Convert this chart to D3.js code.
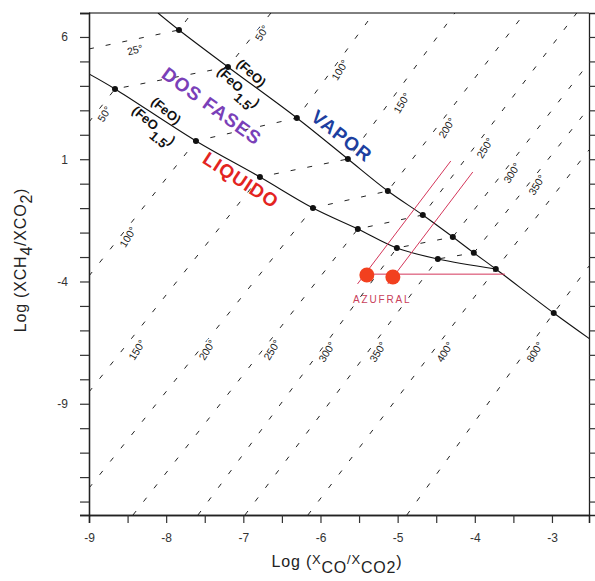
<!DOCTYPE html>
<meta charset="utf-8">
<html>
<head>
<script src="https://d3js.org/d3.v7.min.js"></script>
<style>
body { margin: 0; background: #fff; }
svg { display: block; font-family: Arial, "Liberation Sans", sans-serif; }
.tick text { font-size: 12px; fill: #333; }
.iso { fill: none; stroke: #222; stroke-width: 1; stroke-dasharray: 5,12; }
.curve { fill: none; stroke: #111; stroke-width: 1.1; }
.isolabel { font-size: 10.5px; fill: #222; stroke: #fff; stroke-width: 3; paint-order: stroke; }
</style>
</head>
<body>
<svg width="595" height="581"></svg>
<script>

// axis ticks
var xTicks = [-9, -8, -7, -6, -5, -4, -3];
var yTicks = [6, 1, -4, -9];

// phase boundaries, Log(XCO/XCO2) vs Log(XCH4/XCO2)
var vaporCurve = [[-8.106, 6.98], [-7.834, 6.286], [-7.199, 4.773], [-6.306, 2.687], [-5.645, 1.010],
  [-5.127, -0.299], [-4.674, -1.28], [-4.285, -2.18], [-4.013, -2.83], [-3.728, -3.49],
  [-2.977, -5.29], [-2.51, -6.35]];
var liquidCurve = [[-9, 4.487], [-8.663, 3.874], [-7.614, 1.747], [-6.785, 0.274], [-6.098, -0.994],
  [-5.516, -1.853], [-5.010, -2.63], [-4.479, -3.08], [-3.728, -3.49]];

// isotherms
var isoTemps = ["25°", "50°", "100°", "150°", "200°", "250°", "300°", "350°", "400°", "800°"];
var isoPaths = [
  [[-9, 5.51], [-7.834, 6.286], [-7.666, 6.98]],
  [[-9, 2.52], [-8.663, 3.874], [-7.199, 4.773], [-6.642, 6.98]],
  [[-9, -3.775], [-7.614, 1.747], [-6.306, 2.687], [-5.308, 6.98]],
  [[-9, -8.52], [-6.785, 0.274], [-5.645, 1.010], [-4.259, 6.98]],
  [[-9, -12.45], [-6.098, -0.994], [-5.127, -0.299], [-3.352, 6.98]],
  [[-8.43, -13.55], [-5.516, -1.853], [-4.674, -1.28], [-2.679, 6.98]],
  [[-7.588, -13.55], [-5.010, -2.63], [-4.285, -2.18], [-2.52, 4.94]],
  [[-6.979, -13.55], [-4.479, -3.08], [-4.013, -2.83], [-2.52, 3.10]],
  [[-6.163, -13.55], [-3.728, -3.49], [-2.52, 1.38]],
  [[-4.881, -13.55], [-2.977, -5.29], [-2.52, -3.37]]
];
var liquidLabels = [["50°", -8.80, 2.85], ["100°", -8.495, -2.18], ["150°", -8.378, -6.80],
  ["200°", -7.47, -6.80], ["250°", -6.63, -6.80], ["300°", -5.917, -6.88], ["350°", -5.256, -6.88],
  ["400°", -4.389, -6.88], ["800°", -3.223, -6.88]];
var vaporLabels = [["50°", -6.759, 6.16], ["100°", -5.749, 4.65], ["150°", -4.946, 3.30],
  ["200°", -4.363, 2.28], ["250°", -3.870, 1.46], ["300°", -3.52, 0.44], ["350°", -3.197, -0.05]];
var label25 = ["25°", -8.404, 5.47];

// Azufral samples
var azufralPts = [[-5.399, -3.734], [-5.062, -3.816]];
var azufralLines = [
  [[-5.52, -4.10], [-4.311, 0.928]],
  [[-5.127, -4.10], [-4.026, 0.478]],
  [[-5.399, -3.70], [-3.61, -3.70]]
];

var svg = d3.select("svg"),
    width = +svg.attr("width"),
    height = +svg.attr("height");
var margin = {top: 13, right: 6, bottom: 66, left: 89};
var w = width - margin.left - margin.right,
    h = height - margin.top - margin.bottom;

var x = d3.scaleLinear().domain([-9, -2.52]).range([0, w]);
var y = d3.scaleLinear().domain([-13.55, 6.98]).range([h, 0]);

var g = svg.append("g").attr("transform", "translate(" + margin.left + "," + margin.top + ")");

g.append("clipPath").attr("id", "clip")
  .append("rect").attr("width", w).attr("height", h);

var plot = g.append("g").attr("clip-path", "url(#clip)");
var line = d3.line().x(function(d) { return x(d[0]); }).y(function(d) { return y(d[1]); });

// isotherms
plot.selectAll(".iso").data(isoPaths).enter().append("path")
  .attr("class", "iso").attr("d", line);

// curves
var smooth = d3.line().curve(d3.curveCatmullRom).x(function(d) { return x(d[0]); }).y(function(d) { return y(d[1]); });
plot.append("path").attr("class", "curve").attr("d", smooth(vaporCurve));
plot.append("path").attr("class", "curve").attr("d", smooth(liquidCurve));

var dots = vaporCurve.slice(1, -1).concat(liquidCurve.slice(1, -1));
plot.selectAll(".dot").data(dots).enter().append("circle")
  .attr("class", "dot").attr("r", 3)
  .attr("cx", function(d) { return x(d[0]); })
  .attr("cy", function(d) { return y(d[1]); })
  .attr("fill", "#111");

// isotherm labels
plot.selectAll(".isolabel").data(liquidLabels.concat(vaporLabels)).enter().append("text")
  .attr("class", "isolabel")
  .attr("text-anchor", "middle")
  .attr("dy", "0.35em")
  .attr("transform", function(d) { return "translate(" + x(d[1]) + "," + y(d[2]) + ") rotate(-58)"; })
  .text(function(d) { return d[0]; });
plot.append("text").attr("class", "isolabel")
  .attr("text-anchor", "middle").attr("dy", "0.35em")
  .attr("transform", "translate(" + x(label25[1]) + "," + y(label25[2]) + ") rotate(-14)")
  .text(label25[0]);

// Azufral
plot.selectAll(".az").data(azufralLines).enter().append("path")
  .attr("d", line).attr("fill", "none")
  .attr("stroke", "#d4365a").attr("stroke-width", 1);
plot.selectAll(".azpt").data(azufralPts).enter().append("circle")
  .attr("r", 7.5)
  .attr("cx", function(d) { return x(d[0]); })
  .attr("cy", function(d) { return y(d[1]); })
  .attr("fill", "#f2401f");
plot.append("text")
  .attr("x", x(-5.2)).attr("y", y(-4.87))
  .attr("text-anchor", "middle")
  .style("font-size", "10px").style("letter-spacing", "1.8px")
  .attr("fill", "#c8405a")
  .text("AZUFRAL");

// FeO / FeO1.5 ratio labels
function ratio(px, py, ang) {
  var t = plot.append("g")
    .attr("transform", "translate(" + x(px) + "," + y(py) + ") rotate(" + ang + ")")
    .style("font-size", "13px").style("font-weight", "bold").attr("fill", "#111");
  t.append("text").attr("text-anchor", "middle").attr("y", -5).text("(FeO)");
  var d = t.append("text").attr("text-anchor", "middle").attr("y", 14);
  d.append("tspan").text("(FeO");
  d.append("tspan").attr("dy", 8).text("1.5");
  d.append("tspan").attr("dy", -8).text(")");
}
ratio(-6.979, 4.241, 42);
ratio(-8.080, 2.687, 40);

// region names
var regions = [["VAPOR", -5.723, 1.951, 38, "#1d3fa0"], ["DOS FASES", -7.407, 3.178, 36, "#7a40b8"],
  ["LIQUIDO", -7.031, 0.151, 33, "#e3241f"]];
plot.selectAll(".region").data(regions).enter().append("text")
  .attr("text-anchor", "middle").attr("dy", "0.35em")
  .attr("transform", function(d) { return "translate(" + x(d[1]) + "," + y(d[2]) + ") rotate(" + d[3] + ")"; })
  .style("font-size", "19px").style("font-weight", "bold").style("letter-spacing", "1px")
  .attr("fill", function(d) { return d[4]; })
  .text(function(d) { return d[0]; });

// axes
var xMinor = d3.range(-8.5, -2.6, 1);
var yMinor = d3.range(-13, 7, 1).filter(function(v) { return yTicks.indexOf(v) < 0; });

g.append("g").attr("transform", "translate(0," + h + ")")
  .call(d3.axisBottom(x).tickValues(xTicks).tickSize(8).tickPadding(10).tickFormat(d3.format("d")));
g.append("g").attr("transform", "translate(0," + h + ")")
  .call(d3.axisBottom(x).tickValues(xMinor).tickSize(8).tickFormat(""));
g.append("g")
  .call(d3.axisLeft(y).tickValues(yTicks).tickSize(9).tickPadding(12).tickFormat(d3.format("d")));
g.append("g")
  .call(d3.axisLeft(y).tickValues(yMinor).tickSize(9).tickFormat(""));
g.append("g").attr("transform", "translate(" + w + ",0)")
  .call(d3.axisRight(y).tickValues(yTicks.concat(yMinor)).tickSize(7).tickFormat(""));
g.append("line").attr("x1", 0).attr("x2", w).attr("y1", 0).attr("y2", 0).attr("stroke", "#000");

g.selectAll(".domain").attr("stroke", "#222").attr("stroke-width", 1.3);
g.selectAll(".tick line").attr("stroke", "#333").attr("stroke-width", 1.2);
g.selectAll(".tick text").text(function() { return d3.select(this).text().replace("−", "-"); });

// axis titles
var xt = svg.append("text").attr("x", 337).attr("y", 567).attr("text-anchor", "middle")
  .style("font-size", "16px").style("letter-spacing", "0.8px").attr("fill", "#222");
xt.append("tspan").text("Log (");
xt.append("tspan").attr("dy", -3).style("font-size", "13px").text("X");
xt.append("tspan").attr("dy", 9).text("CO");
xt.append("tspan").attr("dy", -9).style("font-size", "13px").text("/X");
xt.append("tspan").attr("dy", 9).text("CO2");
xt.append("tspan").attr("dy", -6).text(")");

var yt = svg.append("text").attr("transform", "translate(26,260) rotate(-90)").attr("text-anchor", "middle")
  .style("font-size", "16px").style("letter-spacing", "0.8px").attr("fill", "#222");
yt.append("tspan").text("Log (XCH");
yt.append("tspan").attr("dy", 6).text("4");
yt.append("tspan").attr("dy", -6).text("/XCO");
yt.append("tspan").attr("dy", 6).text("2");
yt.append("tspan").attr("dy", -6).text(")");

</script>
</body>
</html>
